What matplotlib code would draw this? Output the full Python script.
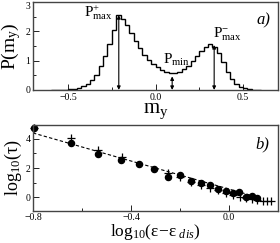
import numpy as np
import matplotlib
import matplotlib.pyplot as plt
from matplotlib.ticker import MultipleLocator

matplotlib.use("Agg")

plt.rcParams["font.family"] = ["Liberation Serif", "DejaVu Serif"]
plt.rcParams["mathtext.fontset"] = "custom"
plt.rcParams["mathtext.rm"] = "Liberation Serif"
plt.rcParams["mathtext.it"] = "Liberation Serif:italic"

# panel a) histogram of m_y, bin width 0.025
hist_edges = np.arange(-0.6, 0.6001, 0.025)
hist_vals = [0.00, 0.00, 0.01, 0.01, 0.02, 0.04, 0.07, 0.12, 0.20, 0.33,
             0.52, 0.80, 1.15, 1.55, 2.05, 2.55, 2.42, 2.22, 1.95, 1.68,
             1.42, 1.20, 1.02, 0.88, 0.77, 0.68, 0.61, 0.57, 0.57, 0.62,
             0.70, 0.82, 0.97, 1.15, 1.32, 1.45, 1.55, 1.47, 1.25, 0.95,
             0.62, 0.37, 0.20, 0.10, 0.05, 0.02, 0.01, 0.00]
hist_yticks = [0, 1, 2, 3]

# arrows: x position, height
arrow_x = [-0.21, 0.095, 0.335]
arrow_top = [2.55, 0.46, 1.53]

# panel b) relaxation times
circ_x = [-0.797, -0.645, -0.533, -0.44, -0.367, -0.305, -0.249, -0.20, -0.156,
          -0.115, -0.079, -0.045, -0.013, 0.015, 0.042, 0.07, 0.093, 0.116]
circ_y = [4.72, 3.70, 2.97, 2.55, 2.26, 1.92, 1.41, 1.53, 1.12,
          0.98, 0.87, 0.57, 0.45, 0.33, 0.37, 0.04, 0.12, -0.05]
plus_x = [-0.797, -0.645, -0.533, -0.437, -0.249, -0.200, -0.156, -0.115, -0.079,
          -0.045, -0.013, 0.018, 0.045, 0.07, 0.093, 0.116, 0.138, 0.155, 0.172]
plus_y = [4.75, 4.05, 3.24, 2.78, 1.68, 1.42, 1.05, 0.85, 0.65,
          0.50, 0.32, 0.15, 0.05, -0.02, -0.12, -0.20, -0.27, -0.27, -0.27]
fit_x = [-0.8, 0.12]
fit_y = [4.40, 0.0]

fig = plt.figure(figsize=(2.8, 2.43), dpi=100)
ax1 = fig.add_axes([0.118, 0.630, 0.875, 0.362])
ax2 = fig.add_axes([0.118, 0.133, 0.875, 0.353])

# --- a)
ax1.stairs(hist_vals, hist_edges, color="black", lw=1.0)
for x, top in zip(arrow_x, arrow_top):
    ax1.annotate("", xy=(x, top), xytext=(x, 0),
                 arrowprops=dict(arrowstyle="<|-|>", color="black", lw=0.8,
                                 mutation_scale=5, shrinkA=0, shrinkB=0))
ax1.text(-0.41, 2.49, r"$\mathrm{P^{+}_{max}}$", fontsize=11, va="baseline")
ax1.text(0.04, 0.87, r"$\mathrm{P_{min}}$", fontsize=11, va="baseline")
ax1.text(0.33, 1.80, r"$\mathrm{P^{-}_{max}}$", fontsize=11, va="baseline")
ax1.text(0.914, 0.74, "a)", transform=ax1.transAxes, fontsize=12,
         style="italic", va="baseline")
ax1.set_xlim(-0.7, 0.7)
ax1.set_ylim(0, 3)
ax1.xaxis.set_major_locator(MultipleLocator(0.5))
ax1.xaxis.set_minor_locator(MultipleLocator(0.25))
ax1.set_yticks(hist_yticks)
ax1.yaxis.set_minor_locator(MultipleLocator(0.5))
ax1.set_xlabel(r"$\mathrm{m_y}$", fontsize=15, labelpad=0)
ax1.set_ylabel(r"$\mathrm{P(m_y)}$", fontsize=14, labelpad=2)

# --- b)
ax2.plot(fit_x, fit_y, ls=(0, (3, 2)), color="black", lw=0.8)
ax2.plot(circ_x, circ_y, "o", color="black", ms=4.4, clip_on=False)
ax2.plot(plus_x, plus_y, "+", color="black", ms=6, mew=0.9, clip_on=False)
ax2.text(0.906, 0.73, "b)", transform=ax2.transAxes, fontsize=12,
         style="italic", va="baseline")
ax2.set_xlim(-0.8, 0.2)
ax2.set_ylim(-0.9, 4.95)
ax2.xaxis.set_major_locator(MultipleLocator(0.4))
ax2.xaxis.set_minor_locator(MultipleLocator(0.2))
ax2.yaxis.set_major_locator(MultipleLocator(2))
ax2.yaxis.set_minor_locator(MultipleLocator(1))
ax2.set_xlabel(r"$\mathrm{log_{10}(\varepsilon\!-\!\varepsilon}_{\ \mathit{dis}}\mathrm{)}$",
               fontsize=12.5, labelpad=0)
ax2.set_ylabel(r"$\mathrm{log_{10}(\tau)}$", fontsize=13, labelpad=1)

for ax in (ax1, ax2):
    ax.tick_params(which="both", direction="in", labelsize=7, pad=2,
                   top=False, right=False)
    ax.tick_params(which="major", length=4, width=0.6)
    ax.tick_params(which="minor", length=2, width=0.6)
    for s in ax.spines.values():
        s.set_color("#444444")
        s.set_linewidth(1.0)

# keep the top "3" label inside the figure
ax1.get_yticklabels()[-1].set_va("top")

fig.savefig("out.png", dpi=100)
